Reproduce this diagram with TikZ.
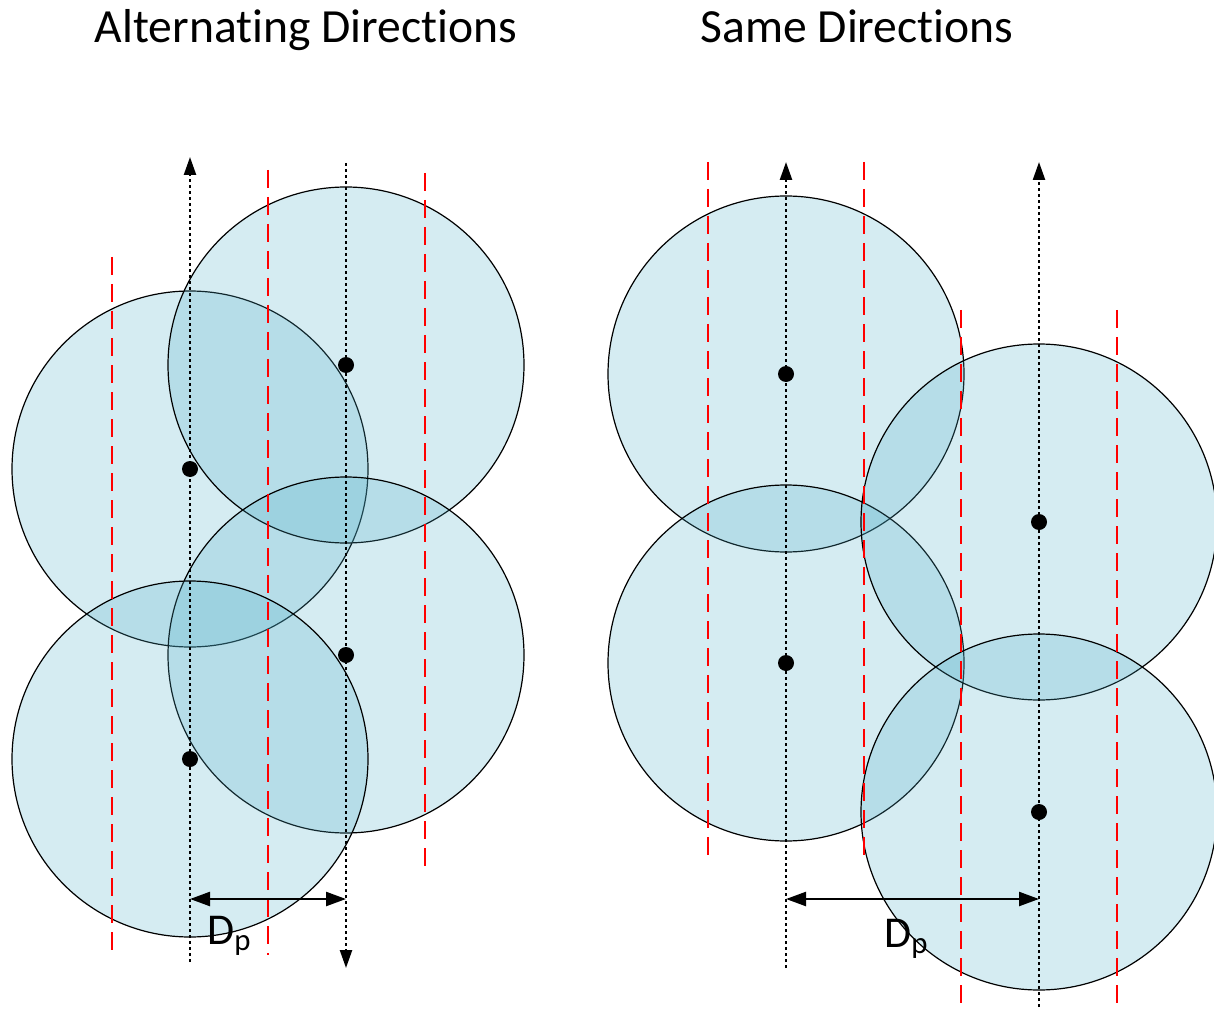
\documentclass[tikz,border=0pt]{standalone}
\usepackage{fontspec}
\setmainfont[Ligatures=NoCommon]{Carlito}
\usetikzlibrary{arrows.meta}
\definecolor{ddfill}{HTML}{4BACC6}
\definecolor{ddred}{HTML}{FF0000}

\begin{document}
\begin{tikzpicture}[x=0.5pt,y=-0.5pt,
  disk/.style={circle,draw=black,line width=0.6pt,fill=ddfill,fill opacity=0.23,
    draw opacity=1,minimum size=178pt,inner sep=0pt},
  ctr/.style={circle,fill=black,minimum size=8pt,inner sep=0pt},
  track/.style={line width=1.2pt,dash pattern=on 1.5pt off 1.5pt},
  tip/.style={-{Triangle[length=9pt,width=6pt]}},
  lane/.style={ddred,line width=1.35pt,dash pattern=on 9pt off 4.5pt},
  dim/.style={{Triangle[length=10pt,width=7pt]}-{Triangle[length=10pt,width=7pt]},line width=1.2pt},
  ttl/.style={font=\fontsize{23.8}{28}\selectfont,anchor=base,inner sep=0pt},
  lbl/.style={font=\fontsize{22}{26}\selectfont,anchor=base west,inner sep=0pt}]
\useasboundingbox (0,0) rectangle (1214,1010);

% titles
\node[ttl] (altttl) at (306,43) {Alternating Directions};
\node[ttl] (samettl) at (857,43) {Same Directions};

% alternating directions
\node[disk] (a1) at (190,469) {};
\node[disk] (a2) at (346,365) {};
\node[disk] (a3) at (346,655) {};
\node[disk] (a4) at (190,759) {};
\foreach \x/\ya/\yb [count=\i] in {112/257/951,268/170/955,425/173/868}
  \draw[lane] (\x,\ya) coordinate (alt\i a) -- (\x,\yb) coordinate (alt\i b);
\coordinate (aup0) at (190,962);
\coordinate (aup1) at (190,157);
\coordinate (adn0) at (346,163);
\coordinate (adn1) at (346,968);
\draw[track,tip] (aup0) -- (aup1);
\draw[track,tip] (adn0) -- (adn1);
\foreach \n in {a1,a2,a3,a4}
  \node[ctr] at (\n) {};
\coordinate (adim0) at (190,899);
\coordinate (adim1) at (346,899);
\draw[dim] (adim0) -- (adim1);
\node[lbl] (adp) at (207,944) {D\textsubscript{p}};

% same directions
\node[disk] (s1) at (786,374) {};
\node[disk] (s2) at (786,663) {};
\node[disk] (s3) at (1039,522) {};
\node[disk] (s4) at (1039,812) {};
\foreach \x/\ya/\yb [count=\i] in {708/162/858,864/162/858,961/310/1007,1117/310/1007}
  \draw[lane] (\x,\ya) coordinate (same\i a) -- (\x,\yb) coordinate (same\i b);
\coordinate (sa0) at (786,968);
\coordinate (sa1) at (786,162);
\coordinate (sb0) at (1039,1007);
\coordinate (sb1) at (1039,162);
\draw[track,tip] (sa0) -- (sa1);
\draw[track,tip] (sb0) -- (sb1);
\foreach \n in {s1,s2,s3,s4}
  \node[ctr] at (\n) {};
\coordinate (sdim0) at (786,899);
\coordinate (sdim1) at (1039,899);
\draw[dim] (sdim0) -- (sdim1);
\node[lbl] (sdp) at (884,947) {D\textsubscript{p}};
\end{tikzpicture}
\end{document}
